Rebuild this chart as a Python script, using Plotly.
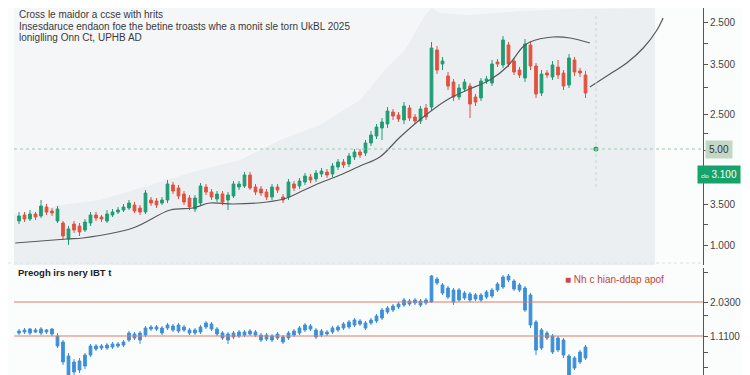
import plotly.graph_objects as go

# ---------------- data: upper panel (candles) ----------------
idx = list(range(104))
open_ = [44,50,46,51,49,58,54,44,42,26,41,39,35,42,50,48,44,50,53,55,
         57,60,57,53,65,64,62,65,80,77,71,67,56,62,78,73,66,71,65,69,
         78,79,90,78,76,73,68,78,68,68,81,79,83,88,86,91,93,91,98,103,
         101,108,113,112,122,129,137,141,153,150,145,157,148,144,157,158,215,201,189,183,
         168,176,179,168,167,184,182,203,200,220,204,195,187,220,199,172,192,188,198,192,
         180,205,194,190]
close = [49,46,51,48,59,53,52,56,29,36,35,33,43,50,47,46,51,53,55,58,
         62,54,53,72,62,60,65,81,74,69,63,58,67,79,73,68,71,63,70,81,
         81,90,77,73,72,68,78,75,65,83,77,84,89,85,92,94,90,99,103,100,
         109,113,110,122,130,138,143,154,149,146,159,147,144,156,148,217,195,204,179,168,
         177,183,161,163,184,186,201,201,225,201,193,190,221,199,171,191,190,200,190,179,
         207,193,192,172]
high = [53,53,55,53,65,61,57,59,44,39,44,42,46,53,53,50,55,56,58,61,
        65,63,60,75,68,67,68,85,83,80,74,70,70,82,81,76,74,74,73,84,
        84,93,93,81,79,76,81,81,71,86,84,87,92,91,95,97,96,102,106,106,
        112,116,116,125,134,141,147,158,156,153,163,160,151,159,161,223,219,208,193,186,
        181,186,182,171,187,189,205,206,229,223,207,198,226,223,202,195,195,204,205,195,
        211,208,197,194]
low = [41,43,44,45,47,50,49,42,25,20,32,29,33,39,44,43,42,48,51,53,
       55,52,50,51,59,57,60,62,71,66,60,55,53,59,70,65,63,60,55,67,
       75,77,75,70,69,65,65,72,62,65,74,76,80,82,83,88,87,88,95,97,
       98,105,107,109,119,126,125,137,145,143,141,144,141,141,145,155,191,195,175,164,
       165,173,147,159,164,181,179,198,197,198,190,187,183,195,167,169,187,185,186,175,
       177,189,188,167]

# moving-average style line (sampled)
ma_i = [-0.7,8.7,11.6,20.7,27.5,31.6,34.7,38.9,45.1,48.7,51.1,54.7,58.4,62.0,65.6,69.3,73.5,77.8,81.5,85.6,88.7,91.6,92.9,97.1,100.2,103.8]
ma_v = [22,26,27,37,55,57,62,61,63,67,73,82,90,99,108,128,148,165,175,185,198,218,223,228,227,222]
proj_i = [103.8,108.0,110.5,113.5,116.0,117.1]
proj_v = [178,193,202,217,235,247]

# faint background "mountain" range
mtn_i = [-0.91,7.45,14.73,23.82,32.91,40.18,47.45,54.73,62.0,66.55,70.18,73.82,75.09,76.55,82.0,91.09,102.0,115.64]
mtn_v = [50,60,65,80,95,105,125,140,165,195,215,250,257,252,250,254,256,257]

top_tickvals = [243,222,201,178,151,132,115,87,61,41,20]
top_ticktext = ["2.500","","3.500","","2.500","","","","3.500","","1.000"]
marker_level = 116
marker_i = 104.9

# ---------------- data: lower panel ----------------
b_open = [44,45,46,45,46,45,46,39,33,19,13,14,20,29,29,29,30,31,31,33,
          42,41,42,47,48,48,47,50,49,50,48,45,45,48,52,51,46,42,41,42,
          43,43,44,43,40,40,39,41,38,42,44,47,50,49,45,44,43,47,48,51,
          53,55,54,52,55,59,65,67,69,71,75,74,75,74,75,99,96,90,87,85,
          85,82,81,80,80,83,85,91,98,99,94,90,87,80,53,45,42,39,37,35,
          19,17,23,28]
b_close = [42,43,42,43,42,43,41,29,13,0,3,5,9,20,26,27,27,28,29,30,
           35,37,35,40,46,46,42,47,45,44,45,42,42,43,48,46,41,37,35,38,
           39,40,41,40,35,36,35,37,33,37,40,42,45,46,38,40,41,43,45,47,
           48,50,51,47,52,54,57,63,65,68,70,71,72,70,72,73,92,82,78,73,
           75,77,75,76,75,78,79,85,88,95,86,85,65,50,25,27,37,23,25,20,
           0,7,13,17]
b_high = [46,47,47,47,48,46,47,42,35,22,16,17,22,31,31,31,32,33,33,35,
          44,43,44,49,50,50,49,52,51,52,50,47,47,50,54,53,48,44,43,44,
          45,45,46,45,42,42,41,43,40,44,46,49,52,51,47,46,45,49,50,53,
          55,57,56,54,57,61,67,69,71,73,77,76,77,76,77,100,98,92,89,87,
          87,84,83,82,82,85,87,93,100,101,96,92,89,82,55,47,44,41,39,37,
          21,19,25,30]
b_low = [40,41,40,42,40,41,39,27,10,-5,0,2,6,18,24,25,25,26,27,28,
         33,35,31,38,44,44,40,45,43,42,43,40,40,41,46,44,39,35,31,36,
         37,38,39,38,33,34,33,35,31,35,38,40,43,44,36,38,39,41,43,45,
         46,48,49,45,50,52,55,61,63,66,68,69,70,68,70,72,90,80,76,70,
         73,75,73,74,73,76,77,83,86,93,84,83,63,47,20,25,35,21,23,17,
         -5,5,11,15]
b_levels = [73, 39]
bot_tickvals = [103,73,60,39,23,8]
bot_ticktext = ["","2.0300","","1.1100","",""]

GREEN = "#1f9d72"
RED = "#e4513f"
BLUE = "#3d8fd8"
FONT = "Liberation Sans"

# page body has an 8px margin: figure is sized to the remaining area
W, H = 742, 367
PLOT_W = 695


def px(x):  # screen x -> paper x
    return (x - 8) / PLOT_W


def py(y):  # screen y -> paper y
    return 1 - (y - 8) / H


fig = go.Figure()

fig.add_trace(go.Candlestick(
    x=idx, open=open_, high=high, low=low, close=close, yaxis="y",
    increasing=dict(line=dict(color=GREEN, width=1), fillcolor=GREEN),
    decreasing=dict(line=dict(color=RED, width=1), fillcolor=RED),
    whiskerwidth=0))

fig.add_trace(go.Scatter(x=ma_i, y=ma_v, mode="lines", yaxis="y",
                         line=dict(color="#555a5e", width=1.2, shape="spline")))
fig.add_trace(go.Scatter(x=proj_i, y=proj_v, mode="lines", yaxis="y",
                         line=dict(color="#555a5e", width=1.2, shape="spline")))
fig.add_trace(go.Scatter(x=[marker_i], y=[marker_level], mode="markers", yaxis="y",
                         marker=dict(color="#2a9d6a", size=5)))

fig.add_trace(go.Candlestick(
    x=idx, open=b_open, high=b_high, low=b_low, close=b_close, yaxis="y2",
    increasing=dict(line=dict(color=BLUE, width=1), fillcolor=BLUE),
    decreasing=dict(line=dict(color=BLUE, width=1), fillcolor=BLUE),
    whiskerwidth=0))

mtn_path = "M %s,0 " % mtn_i[0] + " ".join("L %s,%s" % (a, b) for a, b in zip(mtn_i, mtn_v)) + " L %s,0 Z" % mtn_i[-1]

shapes = [
    dict(type="rect", xref="x", yref="y", x0=-0.91, x1=115.64, y0=0, y1=257,
         fillcolor="#f4f6f8", line=dict(width=0), layer="below"),
    dict(type="path", xref="x", yref="y", path=mtn_path,
         fillcolor="#eceff2", line=dict(width=0), layer="below"),
    dict(type="line", xref="paper", yref="y", x0=px(14), x1=1, y0=marker_level, y1=marker_level,
         line=dict(color="#9cc9aa", width=1, dash="dot")),
    dict(type="line", xref="x", yref="y", x0=marker_i, x1=marker_i, y0=78, y1=250,
         line=dict(color="#c9d3cc", width=1, dash="dot")),
    dict(type="line", xref="paper", yref="paper", x0=0.0, x1=1, y0=py(263), y1=py(263),
         line=dict(color="#dde2e6", width=1, dash="dot")),
]
for lv in b_levels:
    shapes.append(dict(type="line", xref="paper", yref="y2", x0=px(14), x1=1, y0=lv, y1=lv,
                       line=dict(color="#e07a62", width=1.2)))

title_lines = ["Cross le maidor a ccse with hrits",
               "Insesdaruce endaon foe the betine troasts whe a monit sle torn UkBL 2025",
               "loniglling Onn Ct, UPHB AD"]
annotations = []
for k, t in enumerate(title_lines):
    annotations.append(dict(text=t, xref="paper", yref="paper", x=px(17), y=py(15 + 11.5 * k),
                            xanchor="left", yanchor="middle", showarrow=False,
                            font=dict(family=FONT, size=10, color="#3a3a3a")))
annotations += [
    dict(text="Preogh irs nery IBT t", xref="paper", yref="paper", x=px(16), y=py(272),
         xanchor="left", yanchor="middle", showarrow=False,
         font=dict(family=FONT, size=9.5, color="#222", weight=600)),
    dict(text="<span style='color:#d0483a'>■</span> Nh c hian-ddap apof", xref="paper", yref="paper",
         x=px(563), y=py(279), xanchor="left", yanchor="middle", showarrow=False,
         font=dict(family=FONT, size=10, color="#c4453a")),
    dict(text="5.00", xref="paper", yref="y", x=1.0, y=marker_level, xanchor="left", yanchor="middle",
         showarrow=False, bgcolor="#c3d7c5", borderpad=3, xshift=2,
         font=dict(family=FONT, size=10, color="#333")),
    dict(text="<span style='font-size:6px'>clo</span> 3.100", xref="paper", yref="paper",
         x=px(697), y=py(174), xanchor="left", yanchor="middle", showarrow=False,
         bgcolor="#16a36b", borderpad=3, font=dict(family=FONT, size=10, color="#ffffff")),
]

axis_common = dict(side="right", showline=True, linecolor="#555", linewidth=1,
                   ticks="outside", ticklen=4, tickcolor="#555", showgrid=False, zeroline=False,
                   tickfont=dict(family=FONT, size=10, color="#444"), fixedrange=True)

fig.update_layout(
    width=W, height=H, margin=dict(l=0, r=W - PLOT_W, t=0, b=0),
    paper_bgcolor="#fbfcfc", plot_bgcolor="#fbfcfc", showlegend=False,
    xaxis=dict(range=[-2.0, 124.364], visible=False, rangeslider=dict(visible=False)),
    yaxis=dict(domain=[1 - 257 / H, 1], range=[0, 257], tickmode="array",
               tickvals=top_tickvals, ticktext=top_ticktext, **axis_common),
    yaxis2=dict(domain=[0, 107 / H], range=[0, 107], tickmode="array",
                tickvals=bot_tickvals, ticktext=bot_ticktext, **axis_common),
    shapes=shapes, annotations=annotations,
)

fig.write_html("out.html")
